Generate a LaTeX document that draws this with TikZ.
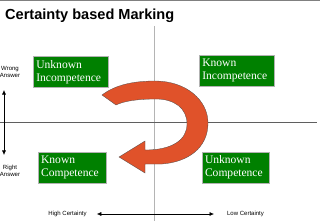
\documentclass[tikz,border=0pt]{standalone}
\usepackage{fontspec}
\setmainfont{Liberation Serif}
\setsansfont{Liberation Sans}
\usetikzlibrary{arrows.meta,positioning}
\definecolor{boxgreen}{HTML}{008000}
\definecolor{arroworange}{HTML}{E0522A}
\definecolor{axisgray}{HTML}{5F5F5F}
\definecolor{linegray}{HTML}{B4B4B4}
\tikzset{
  quadbox/.style={draw=gray!60, fill=boxgreen, text=white, font=\fontsize{11.5}{13}\selectfont, align=left, inner xsep=3pt, inner ysep=1pt, minimum height=1.08cm},
  axislabel/.style={font=\sffamily\fontsize{6}{7}\selectfont, align=center, inner sep=0pt},
  axisarrow/.style={{Latex[length=4.5pt,width=4pt]}-{Latex[length=4.5pt,width=4pt]}, line width=0.6pt}
}

\begin{document}
\begin{tikzpicture}[x=0.035cm, y=-0.035cm]
  \useasboundingbox (0,0) rectangle (320,221);
  \draw[gray, line width=1.2pt] (0,0.5) -- (320,0.5);
  \node[anchor=base west, font=\sffamily\bfseries\fontsize{14.5}{16}\selectfont, inner sep=0pt] (title) at (5,20) {Certainty based Marking};

  % axes
  \coordinate (vtop) at (154,26);
  \coordinate (vbot) at (154,221);
  \coordinate (hleft) at (0,122);
  \coordinate (hright) at (317,122);
  \draw[linegray, line width=0.6pt] (vtop) -- (vbot);
  \draw[axisgray, line width=0.7pt] (hleft) -- (hright);

  % orange turning arrow
  \filldraw[fill=arroworange, draw=black!70, line width=0.3pt]
    (102,95) .. controls (115,85) and (133,81) .. (155,81)
    .. controls (186,81) and (208,100) .. (208,123)
    .. controls (208,148) and (188,162) .. (162,164)
    -- (145,164) -- (145,173) -- (119,157) -- (145,141) -- (145,150)
    .. controls (172,150) and (187,140) .. (187,124)
    .. controls (187,108) and (174,99) .. (156,99)
    .. controls (138,99) and (124,101) .. (116,105) -- cycle;

  \node[quadbox, text width=69pt] (ui) at (71,72) {Unknown\\Incompetence};
  \node[quadbox, text width=69pt] (ki) at (237,70.5) {Known\\Incompetence};
  \node[quadbox, text width=61.5pt] (kc) at (72,167.5) {Known\\Competence};
  \node[quadbox, text width=60.7pt] (uc) at (235.5,167.5) {Unknown\\Competence};

  % answer axis
  \node[axislabel] (wrong) at (10,72) {Wrong\\Answer};
  \node[axislabel] (right) at (10,170.5) {Right\\Answer};
  \coordinate (up) at (4,90);
  \coordinate (down) at (4,155);
  \draw[axisarrow] (up) -- (down);

  % certainty axis
  \node[axislabel] (high) at (67.5,214) {High Certainty};
  \node[axislabel] (low) at (245.5,214) {Low Certainty};
  \draw[axisarrow, shorten <=0.35cm, shorten >=0.45cm] (high.east) -- (low.west);
\end{tikzpicture}
\end{document}
